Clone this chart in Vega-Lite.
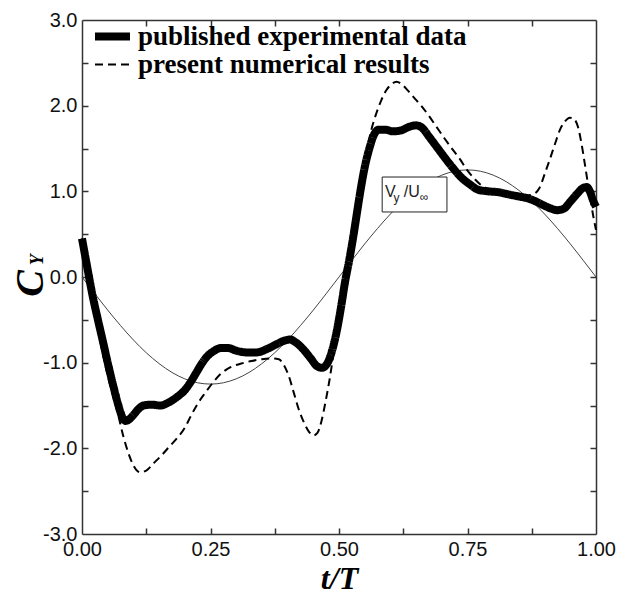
{
  "$schema": "https://vega.github.io/schema/vega-lite/v6.json",
  "width": 514,
  "height": 514,
  "autosize": "none",
  "padding": {"left": 82, "top": 20, "right": 22, "bottom": 61},
  "background": "white",
  "config": {"view": {"stroke": null}},
  "datasets": {
    "curves": [
      {"t": 0.000, "v": 0.45, "series": "published experimental data"},
      {"t": 0.010, "v": 0.12, "series": "published experimental data"},
      {"t": 0.021, "v": -0.23, "series": "published experimental data"},
      {"t": 0.031, "v": -0.50, "series": "published experimental data"},
      {"t": 0.041, "v": -0.76, "series": "published experimental data"},
      {"t": 0.050, "v": -1.00, "series": "published experimental data"},
      {"t": 0.060, "v": -1.25, "series": "published experimental data"},
      {"t": 0.070, "v": -1.48, "series": "published experimental data"},
      {"t": 0.078, "v": -1.63, "series": "published experimental data"},
      {"t": 0.085, "v": -1.68, "series": "published experimental data"},
      {"t": 0.092, "v": -1.66, "series": "published experimental data"},
      {"t": 0.100, "v": -1.61, "series": "published experimental data"},
      {"t": 0.110, "v": -1.54, "series": "published experimental data"},
      {"t": 0.120, "v": -1.50, "series": "published experimental data"},
      {"t": 0.135, "v": -1.49, "series": "published experimental data"},
      {"t": 0.152, "v": -1.50, "series": "published experimental data"},
      {"t": 0.170, "v": -1.46, "series": "published experimental data"},
      {"t": 0.185, "v": -1.40, "series": "published experimental data"},
      {"t": 0.200, "v": -1.32, "series": "published experimental data"},
      {"t": 0.212, "v": -1.22, "series": "published experimental data"},
      {"t": 0.222, "v": -1.12, "series": "published experimental data"},
      {"t": 0.232, "v": -1.02, "series": "published experimental data"},
      {"t": 0.243, "v": -0.93, "series": "published experimental data"},
      {"t": 0.255, "v": -0.87, "series": "published experimental data"},
      {"t": 0.270, "v": -0.83, "series": "published experimental data"},
      {"t": 0.285, "v": -0.83, "series": "published experimental data"},
      {"t": 0.300, "v": -0.86, "series": "published experimental data"},
      {"t": 0.320, "v": -0.88, "series": "published experimental data"},
      {"t": 0.340, "v": -0.88, "series": "published experimental data"},
      {"t": 0.360, "v": -0.84, "series": "published experimental data"},
      {"t": 0.380, "v": -0.78, "series": "published experimental data"},
      {"t": 0.395, "v": -0.74, "series": "published experimental data"},
      {"t": 0.405, "v": -0.73, "series": "published experimental data"},
      {"t": 0.415, "v": -0.76, "series": "published experimental data"},
      {"t": 0.430, "v": -0.84, "series": "published experimental data"},
      {"t": 0.445, "v": -0.95, "series": "published experimental data"},
      {"t": 0.457, "v": -1.04, "series": "published experimental data"},
      {"t": 0.467, "v": -1.06, "series": "published experimental data"},
      {"t": 0.478, "v": -1.00, "series": "published experimental data"},
      {"t": 0.487, "v": -0.85, "series": "published experimental data"},
      {"t": 0.496, "v": -0.62, "series": "published experimental data"},
      {"t": 0.504, "v": -0.35, "series": "published experimental data"},
      {"t": 0.512, "v": -0.05, "series": "published experimental data"},
      {"t": 0.520, "v": 0.20, "series": "published experimental data"},
      {"t": 0.528, "v": 0.48, "series": "published experimental data"},
      {"t": 0.535, "v": 0.75, "series": "published experimental data"},
      {"t": 0.541, "v": 0.98, "series": "published experimental data"},
      {"t": 0.550, "v": 1.28, "series": "published experimental data"},
      {"t": 0.560, "v": 1.52, "series": "published experimental data"},
      {"t": 0.568, "v": 1.66, "series": "published experimental data"},
      {"t": 0.577, "v": 1.72, "series": "published experimental data"},
      {"t": 0.590, "v": 1.72, "series": "published experimental data"},
      {"t": 0.605, "v": 1.70, "series": "published experimental data"},
      {"t": 0.620, "v": 1.71, "series": "published experimental data"},
      {"t": 0.635, "v": 1.75, "series": "published experimental data"},
      {"t": 0.650, "v": 1.77, "series": "published experimental data"},
      {"t": 0.662, "v": 1.74, "series": "published experimental data"},
      {"t": 0.675, "v": 1.64, "series": "published experimental data"},
      {"t": 0.690, "v": 1.52, "series": "published experimental data"},
      {"t": 0.705, "v": 1.40, "series": "published experimental data"},
      {"t": 0.722, "v": 1.27, "series": "published experimental data"},
      {"t": 0.740, "v": 1.15, "series": "published experimental data"},
      {"t": 0.755, "v": 1.08, "series": "published experimental data"},
      {"t": 0.770, "v": 1.02, "series": "published experimental data"},
      {"t": 0.790, "v": 1.00, "series": "published experimental data"},
      {"t": 0.810, "v": 0.99, "series": "published experimental data"},
      {"t": 0.833, "v": 0.96, "series": "published experimental data"},
      {"t": 0.850, "v": 0.94, "series": "published experimental data"},
      {"t": 0.866, "v": 0.92, "series": "published experimental data"},
      {"t": 0.880, "v": 0.89, "series": "published experimental data"},
      {"t": 0.897, "v": 0.84, "series": "published experimental data"},
      {"t": 0.912, "v": 0.80, "series": "published experimental data"},
      {"t": 0.925, "v": 0.78, "series": "published experimental data"},
      {"t": 0.938, "v": 0.80, "series": "published experimental data"},
      {"t": 0.950, "v": 0.88, "series": "published experimental data"},
      {"t": 0.963, "v": 0.97, "series": "published experimental data"},
      {"t": 0.975, "v": 1.04, "series": "published experimental data"},
      {"t": 0.982, "v": 1.05, "series": "published experimental data"},
      {"t": 0.988, "v": 1.00, "series": "published experimental data"},
      {"t": 0.994, "v": 0.90, "series": "published experimental data"},
      {"t": 1.000, "v": 0.82, "series": "published experimental data"},
      {"t": 0.000, "v": 0.45, "series": "present numerical results"},
      {"t": 0.010, "v": 0.10, "series": "present numerical results"},
      {"t": 0.020, "v": -0.25, "series": "present numerical results"},
      {"t": 0.030, "v": -0.58, "series": "present numerical results"},
      {"t": 0.040, "v": -0.88, "series": "present numerical results"},
      {"t": 0.050, "v": -1.15, "series": "present numerical results"},
      {"t": 0.060, "v": -1.38, "series": "present numerical results"},
      {"t": 0.070, "v": -1.60, "series": "present numerical results"},
      {"t": 0.080, "v": -1.85, "series": "present numerical results"},
      {"t": 0.090, "v": -2.05, "series": "present numerical results"},
      {"t": 0.100, "v": -2.20, "series": "present numerical results"},
      {"t": 0.113, "v": -2.28, "series": "present numerical results"},
      {"t": 0.125, "v": -2.26, "series": "present numerical results"},
      {"t": 0.140, "v": -2.17, "series": "present numerical results"},
      {"t": 0.155, "v": -2.08, "series": "present numerical results"},
      {"t": 0.170, "v": -1.98, "series": "present numerical results"},
      {"t": 0.185, "v": -1.88, "series": "present numerical results"},
      {"t": 0.200, "v": -1.76, "series": "present numerical results"},
      {"t": 0.212, "v": -1.62, "series": "present numerical results"},
      {"t": 0.225, "v": -1.48, "series": "present numerical results"},
      {"t": 0.240, "v": -1.35, "series": "present numerical results"},
      {"t": 0.255, "v": -1.23, "series": "present numerical results"},
      {"t": 0.270, "v": -1.13, "series": "present numerical results"},
      {"t": 0.290, "v": -1.05, "series": "present numerical results"},
      {"t": 0.310, "v": -1.01, "series": "present numerical results"},
      {"t": 0.330, "v": -0.98, "series": "present numerical results"},
      {"t": 0.350, "v": -0.96, "series": "present numerical results"},
      {"t": 0.370, "v": -0.95, "series": "present numerical results"},
      {"t": 0.383, "v": -0.96, "series": "present numerical results"},
      {"t": 0.392, "v": -1.02, "series": "present numerical results"},
      {"t": 0.402, "v": -1.15, "series": "present numerical results"},
      {"t": 0.412, "v": -1.35, "series": "present numerical results"},
      {"t": 0.422, "v": -1.55, "series": "present numerical results"},
      {"t": 0.432, "v": -1.70, "series": "present numerical results"},
      {"t": 0.442, "v": -1.81, "series": "present numerical results"},
      {"t": 0.450, "v": -1.85, "series": "present numerical results"},
      {"t": 0.458, "v": -1.82, "series": "present numerical results"},
      {"t": 0.466, "v": -1.68, "series": "present numerical results"},
      {"t": 0.474, "v": -1.45, "series": "present numerical results"},
      {"t": 0.481, "v": -1.22, "series": "present numerical results"},
      {"t": 0.488, "v": -0.95, "series": "present numerical results"},
      {"t": 0.496, "v": -0.62, "series": "present numerical results"},
      {"t": 0.504, "v": -0.32, "series": "present numerical results"},
      {"t": 0.512, "v": -0.04, "series": "present numerical results"},
      {"t": 0.520, "v": 0.20, "series": "present numerical results"},
      {"t": 0.528, "v": 0.47, "series": "present numerical results"},
      {"t": 0.536, "v": 0.80, "series": "present numerical results"},
      {"t": 0.545, "v": 1.15, "series": "present numerical results"},
      {"t": 0.555, "v": 1.50, "series": "present numerical results"},
      {"t": 0.563, "v": 1.72, "series": "present numerical results"},
      {"t": 0.572, "v": 1.90, "series": "present numerical results"},
      {"t": 0.582, "v": 2.06, "series": "present numerical results"},
      {"t": 0.592, "v": 2.18, "series": "present numerical results"},
      {"t": 0.602, "v": 2.25, "series": "present numerical results"},
      {"t": 0.612, "v": 2.28, "series": "present numerical results"},
      {"t": 0.622, "v": 2.25, "series": "present numerical results"},
      {"t": 0.635, "v": 2.17, "series": "present numerical results"},
      {"t": 0.648, "v": 2.08, "series": "present numerical results"},
      {"t": 0.660, "v": 2.00, "series": "present numerical results"},
      {"t": 0.675, "v": 1.88, "series": "present numerical results"},
      {"t": 0.690, "v": 1.75, "series": "present numerical results"},
      {"t": 0.705, "v": 1.62, "series": "present numerical results"},
      {"t": 0.722, "v": 1.48, "series": "present numerical results"},
      {"t": 0.736, "v": 1.37, "series": "present numerical results"},
      {"t": 0.749, "v": 1.25, "series": "present numerical results"},
      {"t": 0.760, "v": 1.17, "series": "present numerical results"},
      {"t": 0.775, "v": 1.08, "series": "present numerical results"},
      {"t": 0.790, "v": 1.03, "series": "present numerical results"},
      {"t": 0.810, "v": 1.00, "series": "present numerical results"},
      {"t": 0.833, "v": 0.97, "series": "present numerical results"},
      {"t": 0.855, "v": 0.95, "series": "present numerical results"},
      {"t": 0.875, "v": 0.96, "series": "present numerical results"},
      {"t": 0.890, "v": 1.04, "series": "present numerical results"},
      {"t": 0.900, "v": 1.20, "series": "present numerical results"},
      {"t": 0.910, "v": 1.37, "series": "present numerical results"},
      {"t": 0.920, "v": 1.55, "series": "present numerical results"},
      {"t": 0.930, "v": 1.72, "series": "present numerical results"},
      {"t": 0.940, "v": 1.82, "series": "present numerical results"},
      {"t": 0.949, "v": 1.86, "series": "present numerical results"},
      {"t": 0.958, "v": 1.84, "series": "present numerical results"},
      {"t": 0.965, "v": 1.75, "series": "present numerical results"},
      {"t": 0.972, "v": 1.55, "series": "present numerical results"},
      {"t": 0.978, "v": 1.33, "series": "present numerical results"},
      {"t": 0.984, "v": 1.10, "series": "present numerical results"},
      {"t": 0.990, "v": 0.88, "series": "present numerical results"},
      {"t": 0.995, "v": 0.70, "series": "present numerical results"},
      {"t": 1.000, "v": 0.55, "series": "present numerical results"}
    ],
    "vy": [
      {"t": 0.000, "v": 0.0}, {"t": 0.025, "v": -0.195}, {"t": 0.050, "v": -0.386},
      {"t": 0.075, "v": -0.567}, {"t": 0.100, "v": -0.735}, {"t": 0.125, "v": -0.884},
      {"t": 0.150, "v": -1.011}, {"t": 0.175, "v": -1.114}, {"t": 0.200, "v": -1.189},
      {"t": 0.225, "v": -1.235}, {"t": 0.250, "v": -1.25}, {"t": 0.275, "v": -1.235},
      {"t": 0.300, "v": -1.189}, {"t": 0.325, "v": -1.114}, {"t": 0.350, "v": -1.011},
      {"t": 0.375, "v": -0.884}, {"t": 0.400, "v": -0.735}, {"t": 0.425, "v": -0.567},
      {"t": 0.450, "v": -0.386}, {"t": 0.475, "v": -0.195}, {"t": 0.500, "v": 0.0},
      {"t": 0.525, "v": 0.195}, {"t": 0.550, "v": 0.386}, {"t": 0.575, "v": 0.567},
      {"t": 0.600, "v": 0.735}, {"t": 0.625, "v": 0.884}, {"t": 0.650, "v": 1.011},
      {"t": 0.675, "v": 1.114}, {"t": 0.700, "v": 1.189}, {"t": 0.725, "v": 1.235},
      {"t": 0.750, "v": 1.25}, {"t": 0.775, "v": 1.235}, {"t": 0.800, "v": 1.189},
      {"t": 0.825, "v": 1.114}, {"t": 0.850, "v": 1.011}, {"t": 0.875, "v": 0.884},
      {"t": 0.900, "v": 0.735}, {"t": 0.925, "v": 0.567}, {"t": 0.950, "v": 0.386},
      {"t": 0.975, "v": 0.195}, {"t": 1.000, "v": 0.0}
    ],
    "box": [{"t1": 0.584, "t2": 0.710, "v1": 0.759, "v2": 1.167}],
    "mainText": [{"t": 0.5895, "v": 0.934, "label": "V"}, {"t": 0.626, "v": 0.934, "label": "/U"}],
    "subText": [{"t": 0.606, "v": 0.875, "label": "y"}, {"t": 0.657, "v": 0.887, "label": "∞"}],
    "ySub": [{"t": -0.076, "v": 0.2, "label": "Y"}]
  },
  "layer": [
    {
      "data": {"name": "vy"},
      "mark": {"type": "line", "interpolate": "monotone", "color": "#444", "strokeWidth": 1},
      "encoding": {
        "x": {"field": "t", "type": "quantitative", "scale": {"domain": [0, 1], "nice": false, "zero": false},
          "axis": {"orient": "top", "values": [0.125, 0.25, 0.375, 0.5, 0.625, 0.75, 0.875], "labels": false, "title": null, "grid": false,
            "tickSize": 6, "tickColor": "#333", "tickWidth": 1.5, "domain": false, "offset": -514}},
        "y": {"field": "v", "type": "quantitative", "scale": {"domain": [-3, 3], "nice": false, "zero": false},
          "axis": {"orient": "right", "values": [-2.5, -2, -1.5, -1, -0.5, 0, 0.5, 1, 1.5, 2, 2.5], "labels": false, "title": null, "grid": false,
            "tickSize": 6, "tickColor": "#333", "tickWidth": 1.5, "domain": false, "offset": -514}}
      }
    },
    {
      "data": {"name": "curves"},
      "mark": {"type": "line", "interpolate": "monotone", "color": "black", "strokeCap": "butt"},
      "encoding": {
        "x": {"field": "t", "type": "quantitative",
          "axis": {"orient": "bottom", "values": [0, 0.25, 0.5, 0.75, 1],
            "format": ".2f", "ticks": false,
            "grid": false, "domainColor": "#333", "domainWidth": 1.5,
            "labelFont": "Liberation Sans", "labelFontSize": 20, "labelColor": "#111", "labelPadding": 5, "labelFlush": false, "labelOverlap": false,
            "title": "t/T", "titleFont": "Liberation Serif", "titleFontStyle": "italic", "titleFontWeight": "bold", "titleFontSize": 32,
            "titleColor": "black", "titleBaseline": "alphabetic", "titleY": 54}},
        "y": {"field": "v", "type": "quantitative",
          "axis": {"orient": "left", "values": [-3, -2, -1, 0, 1, 2, 3],
            "labelExpr": "replace(format(datum.value, '.1f'), '−', '-')", "ticks": false,
            "grid": false, "domainColor": "#333", "domainWidth": 1.5,
            "labelFont": "Liberation Sans", "labelFontSize": 20, "labelColor": "#111", "labelPadding": 5, "labelFlush": false, "labelOverlap": false,
            "title": "C", "titleFont": "Liberation Serif", "titleFontStyle": "italic", "titleFontWeight": "bold", "titleFontSize": 40,
            "titleColor": "black", "titleAngle": 270, "titleAlign": "center", "titleBaseline": "alphabetic", "titleX": -40, "titleY": 263}},
        "strokeDash": {"field": "series", "type": "nominal",
          "scale": {"domain": ["published experimental data", "present numerical results"], "range": [[1, 0], [8, 5]]},
          "legend": {"orient": "none", "legendX": 9, "legendY": 4, "title": null, "padding": 0,
            "labelFont": "Liberation Serif", "labelFontWeight": "bold", "labelFontSize": 27, "labelColor": "black", "labelOffset": 4,
            "symbolType": "stroke", "symbolSize": 1225, "symbolStrokeColor": "black", "rowPadding": 0, "clipHeight": 25, "labelLimit": 500}},
        "strokeWidth": {"field": "series", "type": "nominal",
          "scale": {"domain": ["published experimental data", "present numerical results"], "range": [8, 2]},
          "legend": {"orient": "none", "legendX": 9, "legendY": 4, "title": null, "padding": 0,
            "labelFont": "Liberation Serif", "labelFontWeight": "bold", "labelFontSize": 27, "labelColor": "black", "labelOffset": 4,
            "symbolType": "stroke", "symbolSize": 1225, "symbolStrokeColor": "black", "rowPadding": 0, "clipHeight": 25, "labelLimit": 500}}
      }
    },
    {
      "data": {"name": "box"},
      "mark": {"type": "rect", "fill": "white", "stroke": "#222", "strokeWidth": 1},
      "encoding": {
        "x": {"field": "t1", "type": "quantitative",
          "axis": {"orient": "bottom", "offset": -514, "values": [0.125, 0.25, 0.375, 0.5, 0.625, 0.75, 0.875],
            "labels": false, "domain": true, "domainColor": "#333", "domainWidth": 1.5, "grid": false, "title": null, "tickSize": 6, "tickColor": "#333", "tickWidth": 1.5}},
        "x2": {"field": "t2"},
        "y": {"field": "v1", "type": "quantitative",
          "axis": {"orient": "left", "offset": -514, "values": [-2.5, -2, -1.5, -1, -0.5, 0, 0.5, 1, 1.5, 2, 2.5],
            "labels": false, "domain": true, "domainColor": "#333", "domainWidth": 1.5, "grid": false, "title": null, "tickSize": 6, "tickColor": "#333", "tickWidth": 1.5}},
        "y2": {"field": "v2"}
      }
    },
    {
      "data": {"name": "mainText"},
      "mark": {"type": "text", "font": "Liberation Sans", "fontSize": 16, "align": "left", "baseline": "alphabetic", "color": "#222"},
      "encoding": {
        "x": {"field": "t", "type": "quantitative", "axis": null},
        "y": {"field": "v", "type": "quantitative", "axis": null},
        "text": {"field": "label"}
      }
    },
    {
      "data": {"name": "subText"},
      "mark": {"type": "text", "font": "Liberation Sans", "fontSize": 12, "align": "left", "baseline": "alphabetic", "color": "#222"},
      "encoding": {
        "x": {"field": "t", "type": "quantitative", "axis": null},
        "y": {"field": "v", "type": "quantitative", "axis": null},
        "text": {"field": "label"}
      }
    },
    {
      "data": {"name": "ySub"},
      "mark": {"type": "text", "font": "Liberation Serif", "fontStyle": "italic", "fontWeight": "bold", "fontSize": 18, "align": "center", "baseline": "alphabetic", "angle": 270, "color": "black"},
      "encoding": {
        "x": {"field": "t", "type": "quantitative", "axis": null},
        "y": {"field": "v", "type": "quantitative", "axis": null},
        "text": {"field": "label"}
      }
    }
  ],
  "resolve": {"axis": {"x": "independent", "y": "independent"}}
}
